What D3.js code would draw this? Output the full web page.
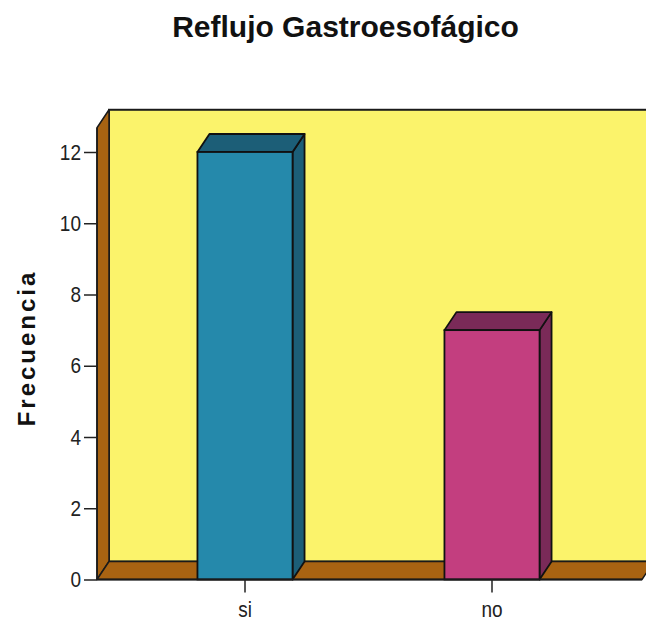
<!DOCTYPE html>
<html>
<head>
<meta charset="utf-8">
<script src="https://cdn.jsdelivr.net/npm/d3@7"></script>
<style>
  html, body { margin: 0; padding: 0; background: #ffffff; }
  svg { display: block; }
</style>
</head>
<body>
<div id="chart"></div>
<script>
// ---- data ----
const categories = ["si", "no"];
const frecuencias = [12, 7];
const yTicks = [0, 2, 4, 6, 8, 10, 12];
const chartTitle = "Reflujo Gastroesofágico";
const yTitle = "Frecuencia";
const barFront = ["#2589ab", "#c33e7f"];
const barDark = ["#1c5e77", "#7a2a58"];

// ---- layout ----
const W = 646, H = 627;
const depthX = 12, depthY = -18;
const frontLeft = 97, frontRight = 642;
const wallTopValue = 12.68;

const svg = d3.select("#chart").append("svg")
  .attr("width", W).attr("height", H);

const y = d3.scaleLinear().domain([0, 12]).range([579.5, 152]);
const x = d3.scaleBand().domain(categories)
  .range([121.5, 615.5]).paddingInner(0.615).paddingOuter(0.3075);

const y0 = y(0);
const yTop = y(wallTopValue);
const line = d3.line();

// back wall
svg.append("rect")
  .attr("x", frontLeft + depthX).attr("y", yTop + depthY)
  .attr("width", W + 40 - (frontLeft + depthX)).attr("height", y0 - yTop)
  .attr("fill", "#fbf36b").attr("stroke", "#1a1a1a").attr("stroke-width", 2);

// side wall
svg.append("path")
  .attr("d", line([[frontLeft, y0], [frontLeft, yTop], [frontLeft + depthX, yTop + depthY], [frontLeft + depthX, y0 + depthY]]) + "Z")
  .attr("fill", "#a86312").attr("stroke", "#1a1a1a").attr("stroke-width", 1.5).attr("stroke-linejoin", "round");

// floor
svg.append("path")
  .attr("d", line([[frontLeft, y0], [frontLeft + depthX, y0 + depthY], [frontRight + depthX, y0 + depthY], [frontRight, y0]]) + "Z")
  .attr("fill", "#a86312").attr("stroke", "#1a1a1a").attr("stroke-width", 1.5).attr("stroke-linejoin", "round");

// bars
const bars = svg.append("g");
categories.forEach((c, i) => {
  const x0 = x(c), x1 = x(c) + x.bandwidth();
  const yv = y(frecuencias[i]);
  const g = bars.append("g");
  g.append("path")
    .attr("d", line([[x1, yv], [x1 + depthX, yv + depthY], [x1 + depthX, y0 + depthY], [x1, y0]]) + "Z")
    .attr("fill", barDark[i]).attr("stroke", "#111").attr("stroke-width", 1.8).attr("stroke-linejoin", "round");
  g.append("path")
    .attr("d", line([[x0, yv], [x0 + depthX, yv + depthY], [x1 + depthX, yv + depthY], [x1, yv]]) + "Z")
    .attr("fill", barDark[i]).attr("stroke", "#111").attr("stroke-width", 1.8).attr("stroke-linejoin", "round");
  g.append("rect")
    .attr("x", x0).attr("y", yv).attr("width", x1 - x0).attr("height", y0 - yv)
    .attr("fill", barFront[i]).attr("stroke", "#111").attr("stroke-width", 1.8);
});

// axes
svg.append("line").attr("x1", frontLeft).attr("x2", frontLeft)
  .attr("y1", yTop).attr("y2", y0).attr("stroke", "#1a1a1a").attr("stroke-width", 1.5);
svg.append("line").attr("x1", frontLeft).attr("x2", frontRight)
  .attr("y1", y0).attr("y2", y0).attr("stroke", "#1a1a1a").attr("stroke-width", 2);

const yAxis = svg.append("g")
  .attr("transform", `translate(${frontLeft},0)`)
  .call(d3.axisLeft(y).tickValues(yTicks).tickSize(13).tickSizeOuter(0).tickPadding(3));
yAxis.select(".domain").remove();
yAxis.selectAll(".tick line").attr("stroke", "#222").attr("stroke-width", 1.5);
yAxis.selectAll(".tick text")
  .attr("font-family", "'Liberation Sans', Arial, sans-serif")
  .attr("font-size", 19).attr("fill", "#222")
  .attr("transform", "scale(1,1.15)");

const xAxis = svg.append("g")
  .attr("transform", `translate(0,${y0})`)
  .call(d3.axisBottom(x).tickSize(13).tickSizeOuter(0).tickPadding(6));
xAxis.select(".domain").remove();
xAxis.selectAll(".tick line").attr("stroke", "#222").attr("stroke-width", 1.5);
xAxis.selectAll(".tick text")
  .attr("font-family", "'Liberation Sans', Arial, sans-serif")
  .attr("font-size", 19).attr("fill", "#222")
  .attr("transform", "scale(1,1.15)");

// titles
svg.append("text")
  .attr("x", 345.5).attr("y", 37)
  .attr("text-anchor", "middle")
  .attr("font-family", "'Liberation Sans', Arial, sans-serif")
  .attr("font-weight", "bold").attr("font-size", 30).attr("fill", "#111")
  .text(chartTitle);

svg.append("text")
  .attr("transform", "translate(35,348) rotate(-90)")
  .attr("text-anchor", "middle")
  .attr("font-family", "'Liberation Sans', Arial, sans-serif")
  .attr("font-weight", "bold").attr("font-size", 24).attr("fill", "#111")
  .attr("letter-spacing", 3)
  .text(yTitle);
</script>
</body>
</html>
